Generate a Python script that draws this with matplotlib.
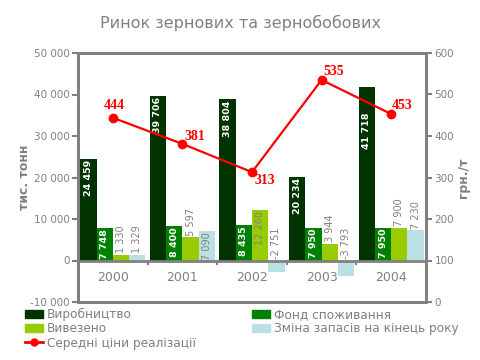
import matplotlib
matplotlib.use("Agg")
import matplotlib.pyplot as plt
from matplotlib.patches import Patch
from matplotlib.lines import Line2D
from matplotlib.ticker import FuncFormatter

years = ["2000", "2001", "2002", "2003", "2004"]
production = [24459, 39706, 38804, 20234, 41718]
consumption = [7748, 8400, 8435, 7950, 7950]
exported = [1330, 5597, 12260, 3944, 7900]
stock_change = [1329, 7090, -2751, -3793, 7230]
prices = [444, 381, 313, 535, 453]

series_names = ["Виробництво", "Фонд споживання", "Вивезено", "Зміна запасів на кінець року"]
price_name = "Середні ціни реалізації"
title = "Ринок зернових та зернобобових"

colors = ["#003300", "#008000", "#99CC00", "#BBE0E3"]
label_colors = ["white", "white", "#808080", "#808080"]
# label placement per series and year: True = inside bar top, False = above bar
inside = [[True] * 5, [True] * 5,
          [False, False, True, False, False],
          [False, True, False, False, False]]
# extra downward shift (pixels) of inside labels to avoid the price line
label_drop_px = [[0, 0, 0, 0, 24], [0] * 5, [0] * 5, [0] * 5]
GRAY = "#808080"

plt.rcParams['font.family'] = ['DejaVu Sans']
fig = plt.figure(figsize=(4.8, 3.6), dpi=100)
ax = fig.add_axes([78/480, 1-302/360, (426-78)/480, (302-53)/360])
ax2 = ax.twinx()

px_to_data = 60000 / 249.0
x = list(range(len(years)))
w = 0.234
data = [production, consumption, exported, stock_change]
for i, (vals, c) in enumerate(zip(data, colors)):
    off = (i - 1.5) * w
    xs = [xi + off for xi in x]
    ax.bar(xs, vals, width=w, color=c, zorder=2, linewidth=0)
    bold = 'bold' if i < 2 else 'normal'
    fs = 6.8 if i < 2 else 7
    for j, (xx, v) in enumerate(zip(xs, vals)):
        txt = f"{v:,}".replace(",", " ")
        if v < 0:
            ax.text(xx, 400, txt, rotation=90, ha='center', va='bottom',
                    fontsize=fs, color=GRAY, zorder=4)
        elif inside[i][j]:
            ax.text(xx, v - 300 - label_drop_px[i][j] * px_to_data, txt,
                    rotation=90, ha='center', va='top',
                    fontsize=fs, color=label_colors[i], fontweight=bold, zorder=4)
        else:
            ax.text(xx, v + 400, txt, rotation=90, ha='center', va='bottom',
                    fontsize=fs, color=label_colors[i], zorder=4)

ax.set_xlim(-0.5, len(years) - 0.5)
ax.set_ylim(-10000, 50000)
ax.set_yticks(range(-10000, 50001, 10000))
ax.yaxis.set_major_formatter(FuncFormatter(lambda v, p: f"{int(v):,}".replace(",", " ")))
ax.set_xticks([])
ax.axhline(0, color=GRAY, lw=2, zorder=3)
for b in [0.5, 1.5, 2.5, 3.5]:
    ax.plot([b, b], [0, -900], color=GRAY, lw=1.5, zorder=3, clip_on=False)
for xi, yr in zip(x, years):
    ax.text(xi, -4000, yr, ha='center', va='center', fontsize=9, color=GRAY)

ax2.set_ylim(0, 600)
ax2.set_yticks(range(0, 601, 100))
ax2.plot(x, prices, color='red', lw=1.6, marker='o', markersize=6, zorder=5)
offsets = [(1, 9), (9, 5), (9, -6), (9, 6), (8, 6)]
for xi, p, (dx, dy) in zip(x, prices, offsets):
    ax2.annotate(str(p), (xi, p), xytext=(dx, dy), textcoords='offset points',
                 ha='center', va='center', color='red', fontsize=10,
                 fontweight='bold', family='Liberation Serif')

for a in (ax, ax2):
    for s in a.spines.values():
        s.set_color(GRAY)
        s.set_linewidth(2)
    a.tick_params(colors=GRAY, labelsize=7.5, width=1.5, length=4, pad=2)

ax.set_ylabel("тис. тонн", color=GRAY, fontsize=9, fontweight='bold', labelpad=-1)
ax2.set_ylabel("грн./т", color=GRAY, fontsize=9, fontweight='bold', labelpad=2)

fig.text(0.5, 1-23/360, title, ha='center', va='center', fontsize=11.5, color=GRAY)

handles = [Patch(color=colors[0]), Patch(color=colors[2]),
           Line2D([], [], color='red', lw=2, marker='o', markersize=5),
           Patch(color=colors[1]), Patch(color=colors[3])]
labels = [series_names[0], series_names[2], price_name, series_names[1], series_names[3]]
leg = fig.legend(handles, labels, ncol=2, loc='upper left',
                 bbox_to_anchor=(25/480, 1-308/360), frameon=False,
                 fontsize=8.75, handlelength=1.48, handleheight=0.66,
                 handletextpad=0.33, columnspacing=4.6, labelspacing=0.1,
                 borderpad=0, borderaxespad=0)
for t in leg.get_texts():
    t.set_color(GRAY)

fig.savefig("out.png", dpi=100)
